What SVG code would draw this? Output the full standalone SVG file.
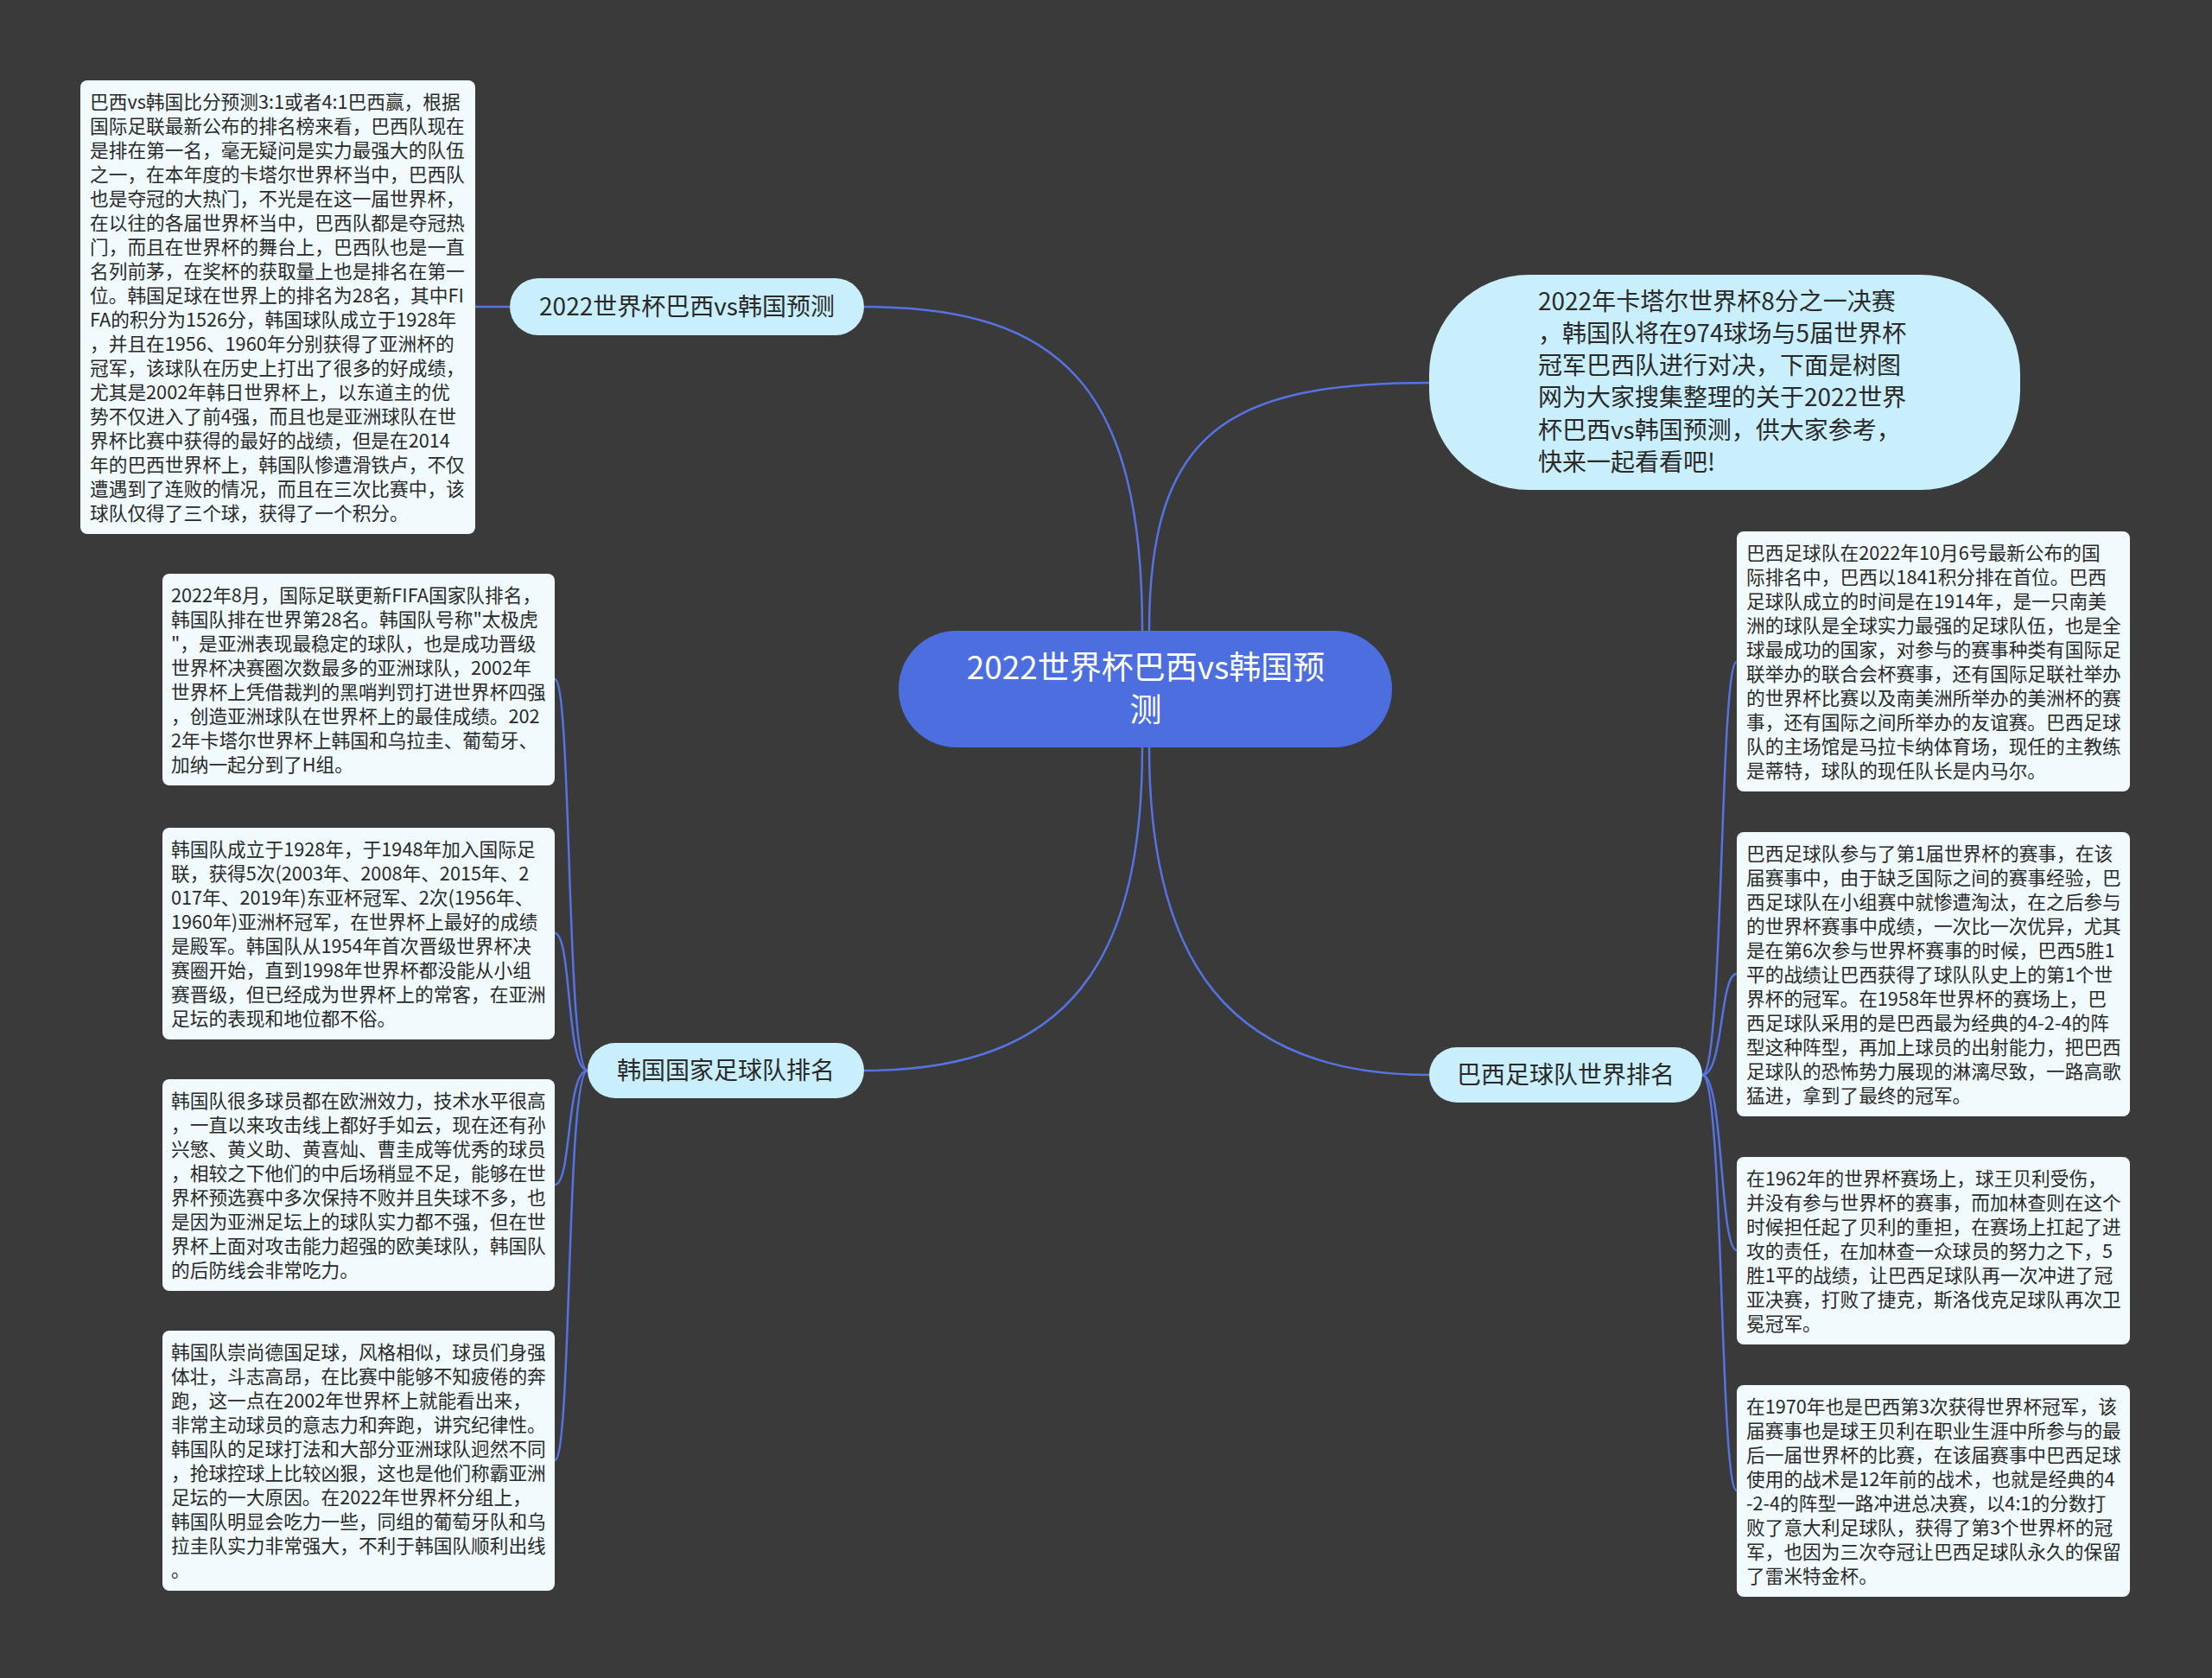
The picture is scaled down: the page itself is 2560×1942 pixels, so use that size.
<svg xmlns="http://www.w3.org/2000/svg" width="2560" height="1942" viewBox="0 0 2560 1942">
<style>
.bg{fill:#3a3a3a}
.lnk{fill:none;stroke:#5673e3;stroke-width:2.5}
.root{fill:#4c6edf}
.rt{font-family:"Noto Sans CJK SC","Noto Sans",sans-serif;font-size:37px;fill:#ffffff;text-anchor:middle}
.br{fill:#c9effc}
.bt{font-family:"Noto Sans CJK SC","Noto Sans",sans-serif;font-size:28px;fill:#2a2a2a;text-anchor:middle}
.bub{fill:#c9effc}
.bubt{font-family:"Noto Sans CJK SC","Noto Sans",sans-serif;font-size:28px;fill:#2a2a2a}
.leaf{fill:#f1fbfd}
.lt{font-family:"Noto Sans CJK SC","Noto Sans",sans-serif;font-size:21.7px;fill:#2a2a2a}
</style>
<rect class="bg" x="0" y="0" width="2560" height="1942"/>
<g id="connectors">
<path class="lnk" d="M1000 355 C1230 355 1322 450 1322 730"/>
<path class="lnk" d="M1330 730 C1330 500 1420 443 1654 443"/>
<path class="lnk" d="M1322 865 C1322 1110 1240 1239 1000 1239"/>
<path class="lnk" d="M1330 865 C1330 1110 1420 1244 1654 1244"/>
<path class="lnk" d="M550 355 L590 355"/>
<path class="lnk" d="M680 1239 C655 1239 662 786 642 786"/>
<path class="lnk" d="M680 1239 C655 1239 662 1080 642 1080"/>
<path class="lnk" d="M680 1239 C655 1239 662 1371 642 1371"/>
<path class="lnk" d="M680 1239 C655 1239 662 1690 642 1690"/>
<path class="lnk" d="M1970 1244 C1995 1244 1990 766 2010 766"/>
<path class="lnk" d="M1970 1244 C1995 1244 1990 1127 2010 1127"/>
<path class="lnk" d="M1970 1244 C1995 1244 1990 1447 2010 1447"/>
<path class="lnk" d="M1970 1244 C1995 1244 1990 1725 2010 1725"/>
</g>
<g id="root">
<rect class="root" x="1040" y="730" width="571" height="135" rx="67"/>
<text class="rt"><tspan x="1326" y="786">2022世界杯巴西vs韩国预</tspan><tspan x="1326" y="835">测</tspan></text>
</g>
<g id="branch-prediction">
<rect class="br" x="590" y="322" width="410" height="66" rx="33"/>
<text class="bt" x="795" y="365">2022世界杯巴西vs韩国预测</text>
</g>
<g id="branch-korea">
<rect class="br" x="680" y="1207" width="320" height="64" rx="32"/>
<text class="bt" x="840" y="1249">韩国国家足球队排名</text>
</g>
<g id="branch-brazil">
<rect class="br" x="1654" y="1212" width="316" height="64" rx="32"/>
<text class="bt" x="1812" y="1254">巴西足球队世界排名</text>
</g>
<g id="intro">
<rect class="bub" x="1654" y="318" width="684" height="249" rx="115"/>
<text class="bubt"><tspan x="1780" y="359">2022年卡塔尔世界杯8分之一决赛</tspan><tspan x="1780" y="396">，韩国队将在974球场与5届世界杯</tspan><tspan x="1780" y="433">冠军巴西队进行对决，下面是树图</tspan><tspan x="1780" y="470">网为大家搜集整理的关于2022世界</tspan><tspan x="1780" y="508">杯巴西vs韩国预测，供大家参考，</tspan><tspan x="1780" y="545">快来一起看看吧!</tspan></text>
</g>
<g id="leaf-prediction">
<rect class="leaf" x="93" y="93" width="457" height="525" rx="8"/>
<text class="lt"><tspan x="104" y="126">巴西vs韩国比分预测3:1或者4:1巴西赢，根据</tspan><tspan x="104" dy="28">国际足联最新公布的排名榜来看，巴西队现在</tspan><tspan x="104" dy="28">是排在第一名，毫无疑问是实力最强大的队伍</tspan><tspan x="104" dy="28">之一，在本年度的卡塔尔世界杯当中，巴西队</tspan><tspan x="104" dy="28">也是夺冠的大热门，不光是在这一届世界杯，</tspan><tspan x="104" dy="28">在以往的各届世界杯当中，巴西队都是夺冠热</tspan><tspan x="104" dy="28">门，而且在世界杯的舞台上，巴西队也是一直</tspan><tspan x="104" dy="28">名列前茅，在奖杯的获取量上也是排名在第一</tspan><tspan x="104" dy="28">位。韩国足球在世界上的排名为28名，其中FI</tspan><tspan x="104" dy="28">FA的积分为1526分，韩国球队成立于1928年</tspan><tspan x="104" dy="28">，并且在1956、1960年分别获得了亚洲杯的</tspan><tspan x="104" dy="28">冠军，该球队在历史上打出了很多的好成绩，</tspan><tspan x="104" dy="28">尤其是2002年韩日世界杯上，以东道主的优</tspan><tspan x="104" dy="28">势不仅进入了前4强，而且也是亚洲球队在世</tspan><tspan x="104" dy="28">界杯比赛中获得的最好的战绩，但是在2014</tspan><tspan x="104" dy="28">年的巴西世界杯上，韩国队惨遭滑铁卢，不仅</tspan><tspan x="104" dy="28">遭遇到了连败的情况，而且在三次比赛中，该</tspan><tspan x="104" dy="28">球队仅得了三个球，获得了一个积分。</tspan></text>
</g>
<g id="leaf-korea-1">
<rect class="leaf" x="188" y="664" width="454" height="245" rx="8"/>
<text class="lt"><tspan x="198" y="697">2022年8月，国际足联更新FIFA国家队排名，</tspan><tspan x="198" dy="28">韩国队排在世界第28名。韩国队号称"太极虎</tspan><tspan x="198" dy="28">"，是亚洲表现最稳定的球队，也是成功晋级</tspan><tspan x="198" dy="28">世界杯决赛圈次数最多的亚洲球队，2002年</tspan><tspan x="198" dy="28">世界杯上凭借裁判的黑哨判罚打进世界杯四强</tspan><tspan x="198" dy="28">，创造亚洲球队在世界杯上的最佳成绩。202</tspan><tspan x="198" dy="28">2年卡塔尔世界杯上韩国和乌拉圭、葡萄牙、</tspan><tspan x="198" dy="28">加纳一起分到了H组。</tspan></text>
</g>
<g id="leaf-korea-2">
<rect class="leaf" x="188" y="958" width="454" height="245" rx="8"/>
<text class="lt"><tspan x="198" y="991">韩国队成立于1928年，于1948年加入国际足</tspan><tspan x="198" dy="28">联，获得5次(2003年、2008年、2015年、2</tspan><tspan x="198" dy="28">017年、2019年)东亚杯冠军、2次(1956年、</tspan><tspan x="198" dy="28">1960年)亚洲杯冠军，在世界杯上最好的成绩</tspan><tspan x="198" dy="28">是殿军。韩国队从1954年首次晋级世界杯决</tspan><tspan x="198" dy="28">赛圈开始，直到1998年世界杯都没能从小组</tspan><tspan x="198" dy="28">赛晋级，但已经成为世界杯上的常客，在亚洲</tspan><tspan x="198" dy="28">足坛的表现和地位都不俗。</tspan></text>
</g>
<g id="leaf-korea-3">
<rect class="leaf" x="188" y="1249" width="454" height="245" rx="8"/>
<text class="lt"><tspan x="198" y="1282">韩国队很多球员都在欧洲效力，技术水平很高</tspan><tspan x="198" dy="28">，一直以来攻击线上都好手如云，现在还有孙</tspan><tspan x="198" dy="28">兴慜、黄义助、黄喜灿、曹圭成等优秀的球员</tspan><tspan x="198" dy="28">，相较之下他们的中后场稍显不足，能够在世</tspan><tspan x="198" dy="28">界杯预选赛中多次保持不败并且失球不多，也</tspan><tspan x="198" dy="28">是因为亚洲足坛上的球队实力都不强，但在世</tspan><tspan x="198" dy="28">界杯上面对攻击能力超强的欧美球队，韩国队</tspan><tspan x="198" dy="28">的后防线会非常吃力。</tspan></text>
</g>
<g id="leaf-korea-4">
<rect class="leaf" x="188" y="1540" width="454" height="301" rx="8"/>
<text class="lt"><tspan x="198" y="1573">韩国队崇尚德国足球，风格相似，球员们身强</tspan><tspan x="198" dy="28">体壮，斗志高昂，在比赛中能够不知疲倦的奔</tspan><tspan x="198" dy="28">跑，这一点在2002年世界杯上就能看出来，</tspan><tspan x="198" dy="28">非常主动球员的意志力和奔跑，讲究纪律性。</tspan><tspan x="198" dy="28">韩国队的足球打法和大部分亚洲球队迥然不同</tspan><tspan x="198" dy="28">，抢球控球上比较凶狠，这也是他们称霸亚洲</tspan><tspan x="198" dy="28">足坛的一大原因。在2022年世界杯分组上，</tspan><tspan x="198" dy="28">韩国队明显会吃力一些，同组的葡萄牙队和乌</tspan><tspan x="198" dy="28">拉圭队实力非常强大，不利于韩国队顺利出线</tspan><tspan x="198" dy="28">。</tspan></text>
</g>
<g id="leaf-brazil-1">
<rect class="leaf" x="2010" y="615" width="455" height="301" rx="8"/>
<text class="lt"><tspan x="2021" y="648">巴西足球队在2022年10月6号最新公布的国</tspan><tspan x="2021" dy="28">际排名中，巴西以1841积分排在首位。巴西</tspan><tspan x="2021" dy="28">足球队成立的时间是在1914年，是一只南美</tspan><tspan x="2021" dy="28">洲的球队是全球实力最强的足球队伍，也是全</tspan><tspan x="2021" dy="28">球最成功的国家，对参与的赛事种类有国际足</tspan><tspan x="2021" dy="28">联举办的联合会杯赛事，还有国际足联社举办</tspan><tspan x="2021" dy="28">的世界杯比赛以及南美洲所举办的美洲杯的赛</tspan><tspan x="2021" dy="28">事，还有国际之间所举办的友谊赛。巴西足球</tspan><tspan x="2021" dy="28">队的主场馆是马拉卡纳体育场，现任的主教练</tspan><tspan x="2021" dy="28">是蒂特，球队的现任队长是内马尔。</tspan></text>
</g>
<g id="leaf-brazil-2">
<rect class="leaf" x="2010" y="963" width="455" height="329" rx="8"/>
<text class="lt"><tspan x="2021" y="996">巴西足球队参与了第1届世界杯的赛事，在该</tspan><tspan x="2021" dy="28">届赛事中，由于缺乏国际之间的赛事经验，巴</tspan><tspan x="2021" dy="28">西足球队在小组赛中就惨遭淘汰，在之后参与</tspan><tspan x="2021" dy="28">的世界杯赛事中成绩，一次比一次优异，尤其</tspan><tspan x="2021" dy="28">是在第6次参与世界杯赛事的时候，巴西5胜1</tspan><tspan x="2021" dy="28">平的战绩让巴西获得了球队队史上的第1个世</tspan><tspan x="2021" dy="28">界杯的冠军。在1958年世界杯的赛场上，巴</tspan><tspan x="2021" dy="28">西足球队采用的是巴西最为经典的4-2-4的阵</tspan><tspan x="2021" dy="28">型这种阵型，再加上球员的出射能力，把巴西</tspan><tspan x="2021" dy="28">足球队的恐怖势力展现的淋漓尽致，一路高歌</tspan><tspan x="2021" dy="28">猛进，拿到了最终的冠军。</tspan></text>
</g>
<g id="leaf-brazil-3">
<rect class="leaf" x="2010" y="1339" width="455" height="217" rx="8"/>
<text class="lt"><tspan x="2021" y="1372">在1962年的世界杯赛场上，球王贝利受伤，</tspan><tspan x="2021" dy="28">并没有参与世界杯的赛事，而加林查则在这个</tspan><tspan x="2021" dy="28">时候担任起了贝利的重担，在赛场上扛起了进</tspan><tspan x="2021" dy="28">攻的责任，在加林查一众球员的努力之下，5</tspan><tspan x="2021" dy="28">胜1平的战绩，让巴西足球队再一次冲进了冠</tspan><tspan x="2021" dy="28">亚决赛，打败了捷克，斯洛伐克足球队再次卫</tspan><tspan x="2021" dy="28">冕冠军。</tspan></text>
</g>
<g id="leaf-brazil-4">
<rect class="leaf" x="2010" y="1603" width="455" height="245" rx="8"/>
<text class="lt"><tspan x="2021" y="1636">在1970年也是巴西第3次获得世界杯冠军，该</tspan><tspan x="2021" dy="28">届赛事也是球王贝利在职业生涯中所参与的最</tspan><tspan x="2021" dy="28">后一届世界杯的比赛，在该届赛事中巴西足球</tspan><tspan x="2021" dy="28">使用的战术是12年前的战术，也就是经典的4</tspan><tspan x="2021" dy="28">-2-4的阵型一路冲进总决赛，以4:1的分数打</tspan><tspan x="2021" dy="28">败了意大利足球队，获得了第3个世界杯的冠</tspan><tspan x="2021" dy="28">军，也因为三次夺冠让巴西足球队永久的保留</tspan><tspan x="2021" dy="28">了雷米特金杯。</tspan></text>
</g>
</svg>
